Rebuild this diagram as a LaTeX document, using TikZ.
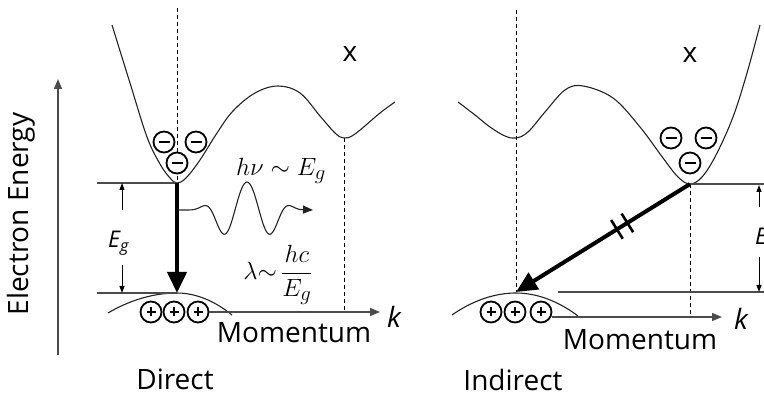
\documentclass[tikz,border=0pt]{standalone}
\usepackage{amsmath}
\usepackage{fontspec}
\setmainfont{Open Sans}
\usetikzlibrary{arrows.meta,calc}
\definecolor{BandInk}{RGB}{35,35,35}
\definecolor{LevelInk}{RGB}{75,75,75}

\begin{document}
\begin{tikzpicture}[x=1pt, y=-1pt, >={Triangle[length=10pt, width=8pt]},
    band/.style={BandInk, line width=1.1pt},
    level/.style={LevelInk, line width=1.3pt},
    guide/.style={black, line width=1pt, dash pattern=on 4pt off 3pt},
    axisline/.style={LevelInk, line width=1.3pt, ->},
    gaparrow/.style={black, line width=1pt, -{Triangle[length=7pt, width=5pt]}},
    transition/.style={black, line width=4pt, -{Triangle[length=21pt, width=19pt]}},
    carrier/.style={circle, draw=black, line width=1.8pt, fill=white, minimum size=21pt, inner sep=0pt},
    electron/.style={carrier, path picture={
      \draw[line width=1.8pt] ($(path picture bounding box.center)+(-5.5pt,0pt)$) -- ($(path picture bounding box.center)+(5.5pt,0pt)$);}},
    hole/.style={carrier, path picture={
      \draw[line width=1.6pt] ($(path picture bounding box.center)+(-4.5pt,0pt)$) -- ($(path picture bounding box.center)+(4.5pt,0pt)$)
        ($(path picture bounding box.center)+(0pt,-4.5pt)$) -- ($(path picture bounding box.center)+(0pt,4.5pt)$);}},
    txt/.style={font=\fontsize{28}{30}\selectfont, inner sep=0pt, anchor=base},
    ktxt/.style={txt, font=\fontsize{28}{30}\selectfont\itshape},
    gaptxt/.style={font=\fontsize{23}{25}\selectfont\itshape, inner sep=0pt, anchor=base west},
    mathtxt/.style={font=\fontsize{28}{30}\selectfont, inner sep=0pt}]
  \useasboundingbox (0,0) rectangle (764,398);

  \coordinate (cbL) at (177,183);
  \coordinate (vbL) at (177,293);
  \coordinate (xminL) at (344,138);
  \coordinate (cbR) at (690,184);
  \coordinate (vbR) at (516,292);
  \coordinate (kEndL) at (380,312);
  \coordinate (kEndR) at (722,317);
  \coordinate (eBase) at (58,355);
  \coordinate (eTip) at (58,79);
  \coordinate (photonEnd) at (313,210);

  % energy axis
  \draw[axisline] (eBase) -- (eTip);
  \node[txt, rotate=90] (energy) at (28,214) {Electron Energy};

  % direct gap
  \draw[guide] (177,8) -- (cbL);
  \draw[guide] (xminL) -- (xminL |- kEndL);
  \draw[band] plot[smooth, tension=0.6] coordinates {(112,25) (130,83) (147,137) (160,164) (170,178) (177,183) (186,178) (200,160) (217,133) (233,111) (255,93) (278,86) (300,93) (320,116) (335,133) (344,138) (355,134) (380,113) (395,102)};
  \draw[band] (108,313) parabola bend (vbL) (232,315);
  \draw[level] (97,183) -- (cbL);
  \draw[level] (97,293) -- (vbL);
  \draw[gaparrow] (122,210) -- (122,183);
  \draw[gaparrow] (122,265) -- (122,293);
  \node[gaptxt] (egL) at (108,248) {E\textsubscript{g}};
  \draw[transition] (cbL) -- (vbL);
  \draw[band, ->] plot[domain=179:300, samples=90, smooth] (\x, {210-28*exp(-((\x-247)*(\x-247)/1444)*((\x-247)*(\x-247)/1444))*cos(7.5*(\x-247))}) -- (photonEnd);
  \node[mathtxt, anchor=base] (energyEq) at (281,176) {$h\nu\sim E_g$};
  \node[mathtxt] (waveEq) at (278,275) {$\lambda{\sim}\,\dfrac{hc}{E_g}$};
  \node[txt] (xL) at (350,62) {x};
  \foreach \n/\px/\py in {1/164/142, 2/196/142, 3/177/163}
    \node[electron] (eL\n) at (\px,\py) {};
  \foreach \n/\px in {1/151, 2/174, 3/198}
    \node[hole] (hL\n) at (\px,312) {};
  \draw[axisline] (hL3.east) -- (kEndL);
  \node[ktxt] (kL) at (394,328) {k};
  \node[txt] (momL) at (294,343) {Momentum};
  \node[txt] (direct) at (175,389) {Direct};

  % indirect gap
  \draw[guide] (516,10) -- (vbR);
  \draw[guide] (cbR) -- (cbR |- kEndR);
  \draw[band] plot[smooth, tension=0.6] coordinates {(458,102) (475,115) (490,127) (505,136) (516,138) (528,132) (545,112) (565,90) (583,86) (613,98) (640,127) (663,158) (678,177) (690,184) (702,177) (716,155) (733,117) (747,73) (760,25)};
  \draw[band] (452,315) parabola bend (516,293) (578,316);
  \draw[level] (cbR) -- (764,184);
  \draw[level] (558,292) -- (764,292);
  \draw[gaparrow] (759,207) -- (759,185);
  \draw[gaparrow] (759,257) -- (759,292);
  \node[gaptxt] (egR) at (755,245) {E\textsubscript{g}};
  \draw[transition] (cbR) -- (vbR);
  \path (cbR) -- (vbR) coordinate[pos=0.36] (tick1) coordinate[pos=0.42] (tick2);
  \foreach \t in {tick1, tick2}
    \draw[black, line width=2.6pt] ($(\t)!11pt!90:(vbR)$) -- ($(\t)!11pt!-90:(vbR)$);
  \node[txt] (xR) at (690,63) {x};
  \foreach \n/\px/\py in {1/671/138, 2/706/138, 3/690/163}
    \node[electron] (eR\n) at (\px,\py) {};
  \foreach \n/\px in {1/491, 2/515, 3/541}
    \node[hole] (hR\n) at (\px,312) {};
  \draw[axisline] (hR3.east |- kEndR) -- (kEndR);
  \node[ktxt] (kR) at (741,330) {k};
  \node[txt] (momR) at (640,350) {Momentum};
  \node[txt] (indirect) at (513,391) {Indirect};
\end{tikzpicture}
\end{document}
